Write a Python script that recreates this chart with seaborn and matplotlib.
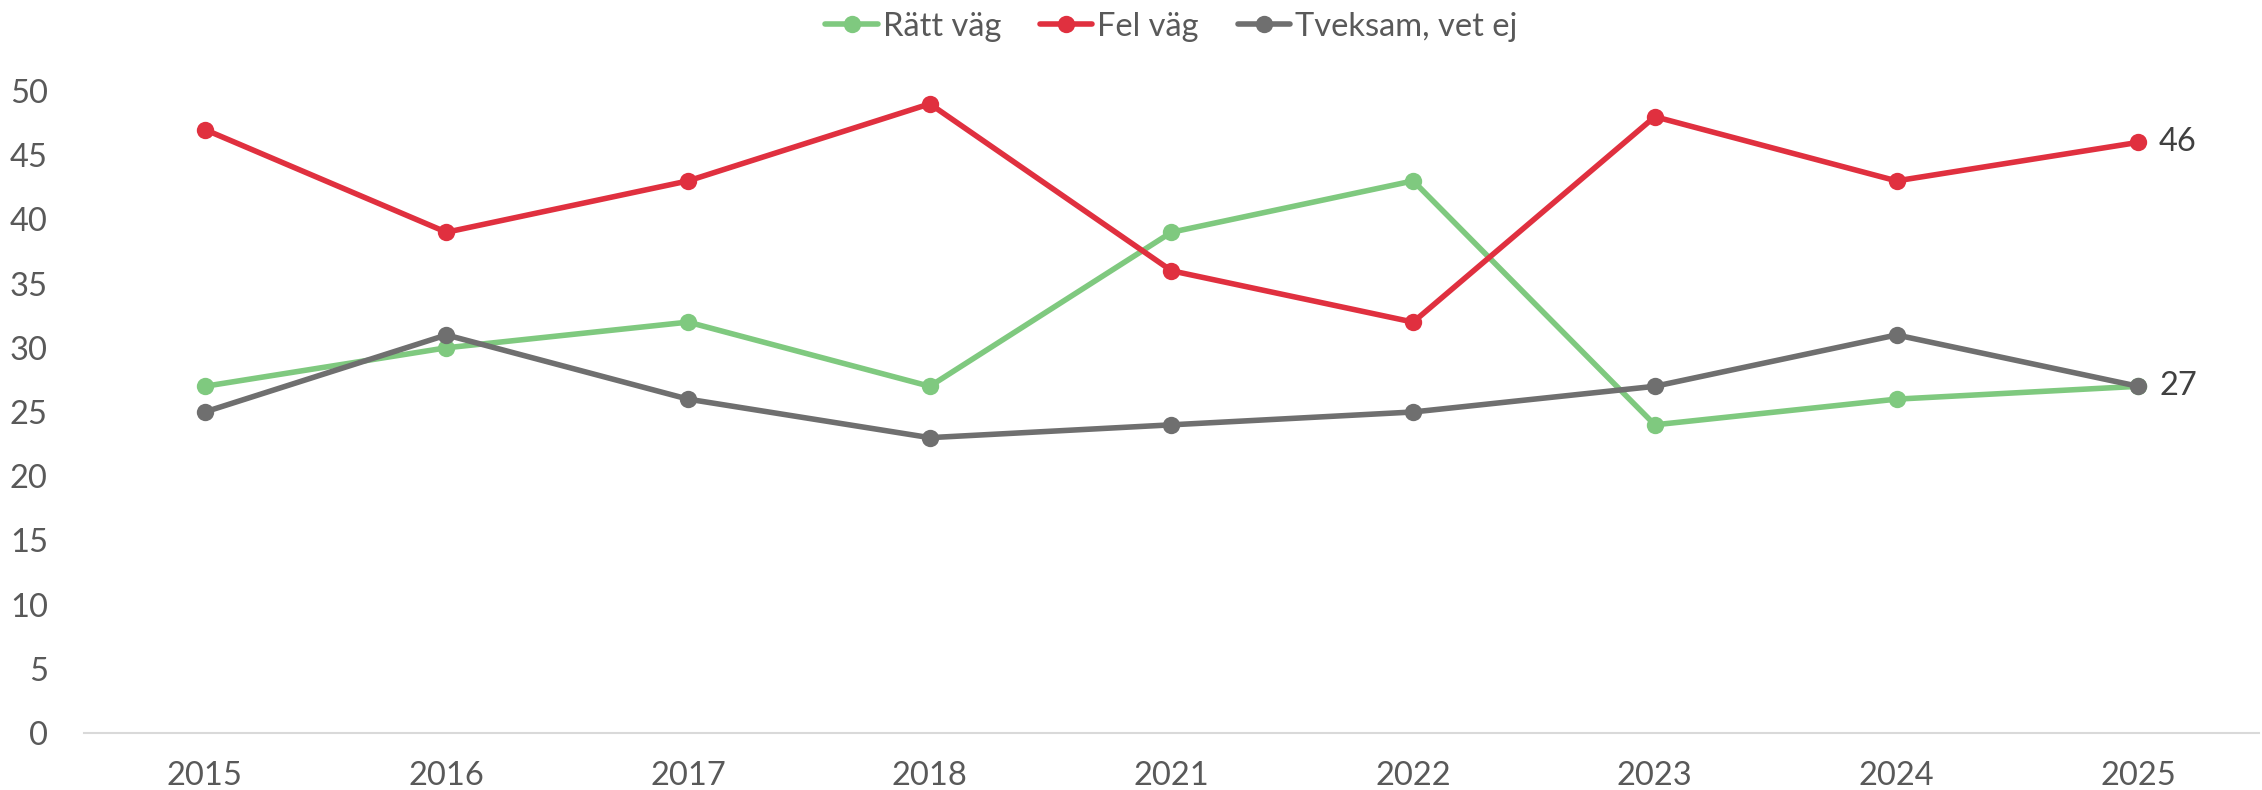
import numpy as np
import matplotlib
matplotlib.use("Agg")
import matplotlib.pyplot as plt
import pandas as pd
import seaborn as sns

years = ["2015", "2016", "2017", "2018", "2021", "2022", "2023", "2024", "2025"]
ratt_vag = [27, 30, 32, 27, 39, 43, 24, 26, 27]
fel_vag = [47, 39, 43, 49, 36, 32, 48, 43, 46]
tveksam = [25, 31, 26, 23, 24, 25, 27, 31, 27]
series_names = ["Rätt väg", "Fel väg", "Tveksam, vet ej"]
colors = ["#7FC97F", "#E0303F", "#6F6F6F"]

rows = []
for name, vals in zip(series_names, [ratt_vag, fel_vag, tveksam]):
    for i, v in enumerate(vals):
        rows.append({"pos": i, "value": v, "serie": name})
df = pd.DataFrame(rows)

sns.set_style("white")
plt.rcParams["font.family"] = ["Lato", "DejaVu Sans"]

fig = plt.figure(figsize=(22.62, 7.9), dpi=100)
ax = fig.add_axes([0.0371, 0.0722, 0.9616, 0.8126])

sns.lineplot(data=df, x="pos", y="value", hue="serie", hue_order=series_names,
             palette=colors, marker="o", markersize=12.5, markeredgewidth=0,
             linewidth=4, ax=ax, legend=True)

ax.set_xlim(-0.5, len(years) - 0.5)
ax.set_ylim(0, 50)
ax.set_xticks(range(len(years)))
ax.set_xticklabels(years)
ax.set_yticks(range(0, 51, 5))
ax.set_xlabel("")
ax.set_ylabel("")
for s in ["top", "right", "left"]:
    ax.spines[s].set_visible(False)
ax.spines["bottom"].set_color("#D9D9D9")
ax.spines["bottom"].set_linewidth(1.5)
ax.tick_params(axis="both", length=0, labelsize=23.5, labelcolor="#595959")
ax.tick_params(axis="x", pad=20)
ax.tick_params(axis="y", pad=26)
for line in ax.lines:
    line.set_clip_on(False)

# end labels
last = len(years) - 1
for vals in [fel_vag, tveksam]:
    ax.annotate(str(vals[-1]), xy=(last, vals[-1]), xytext=(15, 0),
                textcoords="offset points", va="center", ha="left",
                fontsize=23.5, color="#404040")

handles, labels = ax.get_legend_handles_labels()
ax.legend(handles, labels, loc="center", bbox_to_anchor=(0.5, 1.10),
          ncol=3, frameon=False, fontsize=23.5, labelcolor="#595959",
          handlelength=1.6, handletextpad=0.15, columnspacing=1.2)

fig.savefig("out.png", dpi=100)
